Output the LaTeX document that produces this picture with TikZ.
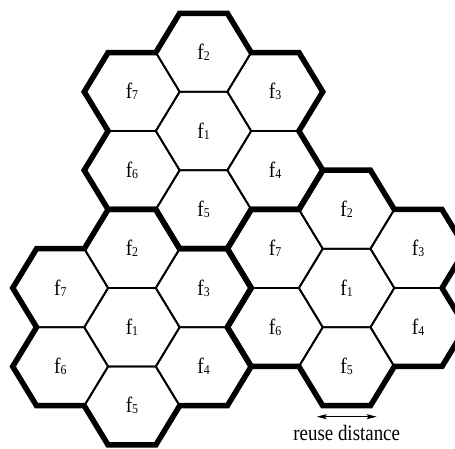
\documentclass[tikz,border=0pt]{standalone}
\usepackage{graphicx}
\usepackage{fontspec}
\setmainfont{Liberation Serif}
\usetikzlibrary{arrows.meta}
\tikzset{
  cell/.style={draw=black, line width=1.8pt, line join=miter},
  clusterline/.style={draw=black, line width=5.5pt, line join=miter},
  lab/.style={inner sep=0pt, font=\fontsize{22}{24}\selectfont},
  reusearrow/.style={line width=1.2pt, {Stealth[length=10pt,width=5pt,inset=2pt]}-{Stealth[length=10pt,width=5pt,inset=2pt]}},
  reusetext/.style={inner sep=0pt, anchor=base, font=\fontsize{22}{24}\selectfont},
}
\newcommand{\flab}[1]{\scalebox{0.88}[1]{f\raisebox{-1pt}{\fontsize{13.5}{14}\selectfont #1}}}
\begin{document}
\begin{tikzpicture}
\useasboundingbox (0,0) rectangle (455pt,448pt);
\clip (0,0) rectangle (455pt,448pt);
\begin{scope}[x=47.7pt, y=45.32pt]
  % cells (thin)
  \foreach \cl/\cx/\cy in {A/4.26625/6.99470, B/2.76625/2.66457, C/7.26625/3.53060}{
    \foreach \k/\t/\r in {1/0/0, 2/90/1.7320508, 3/30/1.7320508, 4/-30/1.7320508, 5/-90/1.7320508, 6/-150/1.7320508, 7/150/1.7320508}{
      \pgfmathsetmacro{\px}{\cx+\r*cos(\t)}
      \pgfmathsetmacro{\py}{\cy+\r*sin(\t)}
      \draw[cell, shift={(\px,\py)}] (0:1) -- (60:1) -- (120:1) -- (180:1) -- (240:1) -- (300:1) -- cycle;
      \node[lab] (\cl\k) at (\px,\py) {\flab{\k}};
    }
  }
  % cluster outlines (thick)
  \foreach \cx/\cy in {4.26625/6.99470, 2.76625/2.66457, 7.26625/3.53060}{
    \draw[clusterline] ({\cx-1},{\cy+1.7320508})
      \foreach \t in {90,30,-30,-90,-150}{
        -- ({\cx+1.7320508*cos(\t)+cos(\t+30)},{\cy+1.7320508*sin(\t)+sin(\t+30)})
        -- ({\cx+1.7320508*cos(\t)+cos(\t-30)},{\cy+1.7320508*sin(\t)+sin(\t-30)})
        -- ({\cx+1.7320508*cos(\t)+cos(\t-90)},{\cy+1.7320508*sin(\t)+sin(\t-90)})
      }
      -- ({\cx+1.7320508*cos(150)+cos(180)},{\cy+1.7320508*sin(150)+sin(180)})
      -- ({\cx+1.7320508*cos(150)+cos(120)},{\cy+1.7320508*sin(150)+sin(120)})
      -- cycle;
  }
\end{scope}
\coordinate (rdL) at (316.7pt,31.3pt);
\coordinate (rdR) at (376.7pt,31.3pt);
\draw[reusearrow] (rdL) -- (rdR);
\node[reusetext] (rdtext) at (346.7pt,8pt) {\scalebox{0.86}[1]{reuse distance}};
\end{tikzpicture}
\end{document}
